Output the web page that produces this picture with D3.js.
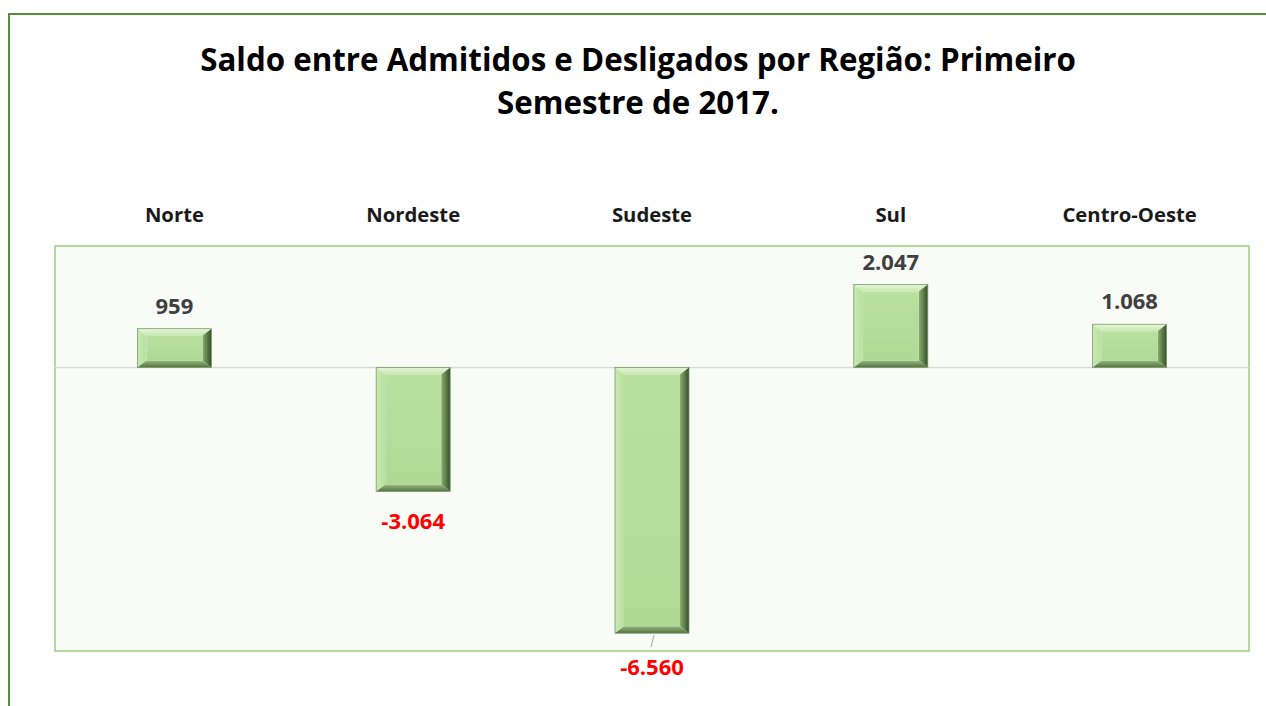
<!DOCTYPE html>
<html lang="pt">
<head>
    <meta charset="UTF-8">
    <script src="https://d3js.org/d3.v7.min.js"></script>
    <style>
        body {margin: 0; background-color: #ffffff;}
        svg {display: block;}
    </style>
</head>
<body>
<svg class="chart"></svg>
<script type="text/javascript">
    // dados
    const regioes = ['Norte', 'Nordeste', 'Sudeste', 'Sul', 'Centro-Oeste'];
    const saldos = [959, -3064, -6560, 2047, 1068];
    const rotulos = ['959', '-3.064', '-6.560', '2.047', '1.068'];
    const titulo = ['Saldo entre Admitidos e Desligados por Região: Primeiro', 'Semestre de 2017.'];

    const width = 1266, height = 706;
    const plot = {left: 55, right: 1249, top: 246, bottom: 651};
    const font = '"Open Sans", Lato, sans-serif';

    const svg = d3.select('.chart').attr('width', width).attr('height', height);

    // moldura externa
    svg.append('rect')
        .attr('x', 9).attr('y', 14)
        .attr('width', width + 20).attr('height', height + 20)
        .attr('fill', 'none')
        .attr('stroke', '#5b8c3c')
        .attr('stroke-width', 2);

    svg.selectAll('.titulo')
        .data(titulo)
        .enter().append('text')
        .attr('class', 'titulo')
        .attr('x', 638)
        .attr('y', (d, i) => 71 + i * 43)
        .attr('text-anchor', 'middle')
        .attr('font-family', font)
        .attr('font-weight', 'bold')
        .attr('font-size', '31.3px')
        .attr('fill', '#000')
        .text(d => d);

    const x = d3.scaleBand()
        .domain(regioes)
        .range([plot.left, plot.right])
        .paddingInner(0.69)
        .paddingOuter(0.345);

    const y = d3.scaleLinear()
        .domain([-7000, 3000])
        .range([plot.bottom, plot.top]);

    // área de plotagem
    svg.append('rect')
        .attr('x', plot.left).attr('y', plot.top)
        .attr('width', plot.right - plot.left)
        .attr('height', plot.bottom - plot.top)
        .attr('fill', '#f9fbf6')
        .attr('stroke', '#9ccc7f')
        .attr('stroke-width', 1.5);

    svg.append('line')
        .attr('x1', plot.left).attr('x2', plot.right)
        .attr('y1', y(0)).attr('y2', y(0))
        .attr('stroke', '#d9d9d9')
        .attr('stroke-width', 1.5);

    // nomes das regiões no topo
    svg.selectAll('.regiao')
        .data(regioes)
        .enter().append('text')
        .attr('class', 'regiao')
        .attr('x', d => x(d) + x.bandwidth() / 2)
        .attr('y', 222)
        .attr('text-anchor', 'middle')
        .attr('font-family', font)
        .attr('font-weight', 'bold')
        .attr('font-size', '20.3px')
        .attr('fill', '#1a1a1a')
        .text(d => d);

    // gradientes do chanfro
    const defs = svg.append('defs');
    function grad(id, x2, y2, c1, c2) {
        const g = defs.append('linearGradient').attr('id', id)
            .attr('x1', 0).attr('y1', 0).attr('x2', x2).attr('y2', y2);
        g.append('stop').attr('offset', '0%').attr('stop-color', c1);
        g.append('stop').attr('offset', '100%').attr('stop-color', c2);
    }
    grad('gTop', 0, 1, '#e4f5d6', '#c7e8b0');
    grad('gLeft', 1, 0, '#c9e9b3', '#b9df9f');
    grad('gRight', 1, 0, '#8aad70', '#34502a');
    grad('gBottom', 0, 1, '#98b97e', '#53713f');
    grad('gFace', 0, 1, '#b9e09f', '#b0d996');

    const bevX = 9, bevY = 7;
    const bars = svg.selectAll('.barra')
        .data(regioes.map((r, i) => ({regiao: r, valor: saldos[i], rotulo: rotulos[i]})))
        .enter().append('g')
        .attr('class', 'barra');

    bars.each(function (d) {
        const g = d3.select(this);
        const x0 = x(d.regiao), x1 = x0 + x.bandwidth();
        const y0 = Math.min(y(d.valor), y(0)), y1 = Math.max(y(d.valor), y(0));
        const ix0 = x0 + bevX, ix1 = x1 - bevX, iy0 = y0 + bevY, iy1 = y1 - bevY;
        const poly = pts => pts.map(p => p.join(',')).join(' ');
        g.append('polygon').attr('points', poly([[x0, y0], [x1, y0], [ix1, iy0], [ix0, iy0]])).attr('fill', 'url(#gTop)');
        g.append('polygon').attr('points', poly([[x0, y0], [ix0, iy0], [ix0, iy1], [x0, y1]])).attr('fill', 'url(#gLeft)');
        g.append('polygon').attr('points', poly([[x1, y0], [x1, y1], [ix1, iy1], [ix1, iy0]])).attr('fill', 'url(#gRight)');
        g.append('polygon').attr('points', poly([[x0, y1], [ix0, iy1], [ix1, iy1], [x1, y1]])).attr('fill', 'url(#gBottom)');
        g.append('rect').attr('x', ix0).attr('y', iy0).attr('width', ix1 - ix0).attr('height', iy1 - iy0).attr('fill', 'url(#gFace)');
        g.append('rect').attr('x', x0).attr('y', y0).attr('width', x1 - x0).attr('height', y1 - y0)
            .attr('fill', 'none').attr('stroke', '#7d9b68').attr('stroke-width', 0.8);
    });

    // linha de chamada do Sudeste
    const sud = saldos[2];
    svg.append('line')
        .attr('x1', x('Sudeste') + x.bandwidth() / 2 + 2).attr('y1', y(sud) + 2)
        .attr('x2', x('Sudeste') + x.bandwidth() / 2 - 1).attr('y2', y(sud) + 14)
        .attr('stroke', '#a6a6a6').attr('stroke-width', 1);

    bars.append('text')
        .attr('x', d => x(d.regiao) + x.bandwidth() / 2)
        .attr('y', d => {
            if (d.valor >= 0) return y(d.valor) - 15;
            if (d.valor < -6000) return plot.bottom + 24;
            return y(d.valor) + 37;
        })
        .attr('text-anchor', 'middle')
        .attr('font-family', font)
        .attr('font-weight', 'bold')
        .attr('font-size', '22px')
        .attr('fill', d => d.valor < 0 ? '#ff0000' : '#404040')
        .text(d => d.rotulo);
</script>
</body>
</html>
